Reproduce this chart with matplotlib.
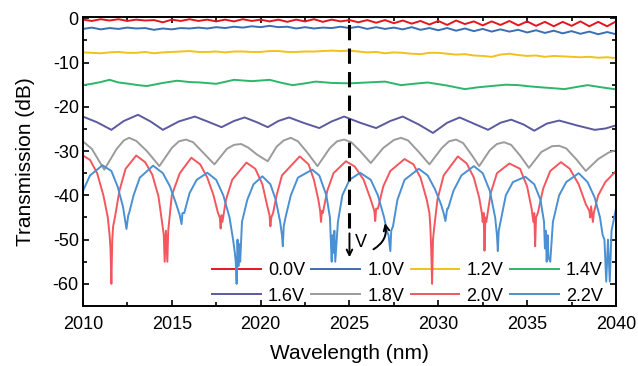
import matplotlib
matplotlib.use("Agg")
import matplotlib.pyplot as plt
from matplotlib.ticker import MultipleLocator

plt.rcParams['font.family'] = ['Liberation Sans', 'DejaVu Sans']
plt.rcParams['axes.unicode_minus'] = False

# ---------------- data ----------------
labels = ["0.0V", "1.0V", "1.2V", "1.4V", "1.6V", "1.8V", "2.0V", "2.2V"]
colors = ["#e3161f", "#3b6fb3", "#f3c11b", "#2db56a", "#5b5a9f", "#9b9b9b", "#f2575e", "#4a90d2"]

x_top = [2010 + 0.5 * i for i in range(61)]
v00_y = [-0.3, -0.6, -0.2, -0.5, -0.2, -0.6, -0.3, -0.5, -0.4, -0.9, -0.3, -0.6, -0.2, -0.6, -0.3, -0.7,
         -0.3, -0.7, -0.2, -0.6, -0.3, -0.7, -0.3, -0.8, -0.3, -0.7, -0.2, -0.8, -0.3, -0.7, -0.4,
         -0.9, -0.4, -1.0, -0.4, -1.1, -0.5, -1.2, -0.6, -1.4, -0.6, -1.5, -0.5, -1.3, -0.7, -1.6,
         -0.7, -1.5, -0.6, -1.6, -0.7, -1.7, -0.8, -1.8, -0.8, -1.7, -0.7, -1.8, -0.8, -1.8, -0.7]
v10_y = [-2.4, -2.1, -2.5, -2.2, -2.4, -2.1, -2.3, -2.2, -2.6, -2.3, -2.5, -2.2, -2.3, -2.1, -2.3, -2.0,
         -2.2, -1.9, -2.1, -1.8, -2.0, -1.7, -2.0, -1.9, -2.3, -2.0, -2.3, -2.1, -2.2, -1.9, -2.2,
         -1.9, -2.4, -2.0, -2.4, -2.1, -2.5, -2.0, -2.6, -2.2, -2.7, -2.2, -2.8, -2.3, -2.9, -2.4,
         -3.0, -2.5, -3.0, -2.6, -3.2, -2.7, -3.3, -2.8, -3.4, -2.9, -3.5, -3.0, -3.6, -3.1, -3.6]

v12_x = [2010, 2010.5, 2011, 2011.5, 2012, 2012.5, 2013, 2013.5, 2014, 2014.5, 2015, 2015.5, 2016, 2016.5,
         2017, 2017.5, 2018, 2018.5, 2019, 2019.5, 2020, 2020.5, 2021, 2021.5, 2022, 2022.5, 2023, 2023.5,
         2024, 2024.5, 2025, 2025.5, 2026, 2026.5, 2027, 2027.5, 2028, 2028.5, 2029, 2029.5, 2030, 2030.5,
         2031, 2031.5, 2032, 2032.5, 2033, 2033.5, 2034, 2034.5, 2035, 2035.5, 2036, 2036.5, 2037, 2037.5,
         2038, 2038.5, 2039, 2039.5, 2040]
v12_y = [-7.7, -7.8, -7.9, -7.7, -7.6, -7.8, -7.8, -7.6, -7.9, -7.7, -7.6, -7.5, -7.4, -7.6, -7.6, -7.5,
         -7.7, -7.5, -7.5, -7.6, -7.6, -7.4, -7.4, -7.6, -7.6, -7.5, -7.5, -7.4, -7.3, -7.4, -7.3, -7.5,
         -7.7, -7.6, -7.9, -7.7, -7.8, -8.0, -8.1, -7.8, -7.8, -8.0, -8.2, -8.1, -8.4, -8.5, -8.7, -8.2,
         -8.0, -8.3, -8.5, -8.4, -8.7, -8.5, -8.6, -8.7, -8.8, -8.7, -8.9, -8.8, -9.0]

v14_x = [2010, 2010.5, 2011, 2011.5, 2012, 2012.6, 2013.1, 2013.6, 2014.5, 2015.3, 2016.0, 2016.6, 2017.5,
         2018.5, 2019.5, 2020.5, 2021.2, 2021.8, 2022.5, 2023.1, 2024.0, 2025.0, 2026.0, 2027.0, 2027.9,
         2028.6, 2029.4, 2030.5, 2031.5, 2032.2, 2033.0, 2033.8, 2034.5, 2035.2, 2035.8, 2036.5, 2037.1,
         2037.8, 2038.4, 2039.2, 2039.9, 2040]
v14_y = [-15.1, -14.8, -14.4, -13.9, -14.5, -14.8, -15.1, -15.3, -14.6, -14.1, -14.4, -14.5, -14.8,
         -13.9, -14.2, -13.9, -14.6, -15.1, -14.7, -14.3, -14.6, -14.7, -14.5, -14.3, -15.1,
         -14.8, -14.5, -15.2, -16.0, -15.6, -15.3, -15.0, -15.1, -15.4, -15.6, -15.8, -16.0,
         -15.5, -15.1, -15.6, -16.0, -16.0]

v16_x = [2010.0, 2010.8, 2011.6, 2012.3, 2013.1, 2013.8, 2014.5, 2015.4, 2016.3, 2017.0, 2017.8, 2018.5,
         2019.1, 2019.8, 2020.4, 2021.0, 2021.6, 2022.4, 2023.3, 2024.0, 2024.7, 2025.6, 2026.5, 2027.3,
         2028.0, 2028.9, 2029.7, 2030.5, 2031.2, 2032.0, 2032.8, 2033.5, 2034.1, 2034.8, 2035.4, 2036.1,
         2036.8, 2037.8, 2038.8, 2039.4, 2040.0]
v16_y = [-22.2, -23.5, -25.2, -23.2, -21.8, -23.3, -25.2, -23.3, -22.2, -23.3, -24.6, -23.2,
         -22.4, -23.5, -24.6, -23.2, -22.4, -23.6, -24.8, -23.3, -22.2, -23.6, -24.8, -23.2,
         -22.2, -24.0, -25.9, -23.6, -22.4, -23.8, -25.2, -23.6, -22.9, -24.0, -25.4, -23.8,
         -23.1, -24.2, -25.2, -24.9, -24.2]

v18_x = [2010.0, 2010.5, 2011.2, 2011.9, 2012.3, 2012.6, 2013.0, 2013.6, 2014.3, 2015.0, 2015.4, 2015.8,
         2016.2, 2016.8, 2017.4, 2018.1, 2018.5, 2018.9, 2019.3, 2019.8, 2020.4, 2020.9, 2021.3, 2021.7,
         2022.1, 2022.6, 2023.2, 2023.9, 2024.3, 2024.7, 2025.1, 2025.6, 2026.2, 2026.9, 2027.5, 2027.9,
         2028.3, 2028.9, 2029.5, 2030.2, 2030.6, 2031.0, 2031.4, 2031.9, 2032.3, 2032.9, 2033.3, 2033.7,
         2034.1, 2034.6, 2035.1, 2035.8, 2036.4, 2036.8, 2037.2, 2037.8, 2038.3, 2039.0, 2039.6, 2040.0]
v18_y = [-27.8, -29.5, -34.2, -29.5, -27.6, -27.0, -27.7, -30.0, -33.4, -29.3, -27.8, -27.4,
         -28.0, -30.5, -33.0, -29.5, -28.6, -28.4, -29.2, -30.8, -32.3, -29.0, -27.6, -27.0,
         -27.8, -30.2, -33.4, -29.3, -27.8, -27.4, -28.0, -30.0, -32.7, -29.3, -27.5, -27.0,
         -27.6, -30.2, -33.0, -29.3, -27.8, -27.4, -28.2, -31.0, -33.4, -29.8, -28.4, -28.0,
         -28.6, -31.0, -33.8, -30.2, -28.9, -28.8, -29.4, -32.0, -34.5, -31.8, -30.3, -29.8]

v20_x = [2010.0, 2010.4, 2010.8, 2011.15, 2011.4, 2011.5, 2011.55, 2011.6, 2011.65, 2011.7, 2011.8, 2012.05, 2012.4,
         2013.0, 2013.5, 2013.9, 2014.25, 2014.45, 2014.55, 2014.6, 2014.67, 2014.75, 2014.8, 2014.9, 2015.0, 2015.45,
         2016.1, 2016.6, 2017.0, 2017.35, 2017.6, 2017.7, 2017.75, 2017.8, 2017.85, 2018.05, 2018.4,
         2019.2, 2019.7, 2020.1, 2020.35, 2020.5, 2020.55, 2020.6, 2020.7, 2020.9, 2021.2,
         2022.2, 2022.7, 2023.0, 2023.25, 2023.35, 2023.4, 2023.45, 2023.5, 2023.75, 2024.1,
         2024.8, 2025.3, 2025.8, 2026.2, 2026.4, 2026.45, 2026.5, 2026.6, 2026.9, 2027.3,
         2028.1, 2028.6, 2029.0, 2029.35, 2029.5, 2029.55, 2029.6, 2029.65, 2029.7, 2029.75, 2029.95, 2030.3,
         2031.1, 2031.6, 2032.0, 2032.3, 2032.45, 2032.5, 2032.55, 2032.6, 2032.65, 2032.7, 2032.95, 2033.3,
         2034.0, 2034.6, 2035.0, 2035.25, 2035.35, 2035.4, 2035.45, 2035.5, 2035.6, 2035.9, 2036.3,
         2036.9, 2037.4, 2037.9, 2038.3, 2038.5, 2038.55, 2038.6, 2038.7, 2038.75, 2039.0, 2039.4, 2040.0]
v20_y = [-31.0, -32.0, -35.0, -40.0, -45.0, -49.0, -52.0, -60.0, -50.0, -47.0, -45.0, -39.0, -34.0,
         -31.0, -32.5, -35.3, -40.2, -46.0, -49.0, -55.0, -48.0, -55.0, -48.0, -44.0, -40.0, -35.0,
         -31.5, -33.0, -36.0, -40.0, -44.0, -45.0, -47.5, -44.5, -46.0, -41.0, -36.5,
         -32.6, -34.0, -37.5, -42.0, -44.5, -47.0, -45.0, -44.0, -40.0, -35.5,
         -31.2, -33.0, -36.5, -41.0, -43.5, -46.0, -43.5, -44.0, -39.0, -35.0,
         -32.3, -33.5, -36.5, -41.0, -43.5, -45.8, -43.0, -43.0, -38.0, -34.5,
         -31.8, -33.0, -36.0, -41.0, -44.0, -47.0, -52.0, -60.0, -50.0, -48.0, -41.0, -35.5,
         -31.2, -32.8, -36.0, -40.5, -44.0, -46.0, -44.0, -52.5, -45.0, -46.0, -39.5, -35.0,
         -32.8, -34.0, -38.0, -43.0, -46.0, -44.0, -51.5, -45.0, -44.0, -38.5, -34.5,
         -32.5, -34.0, -37.5, -42.0, -43.5, -45.0, -42.5, -46.0, -44.0, -40.0, -37.0, -34.5]

v22_x = [2010.0, 2010.4, 2011.1, 2011.6, 2011.95, 2012.25, 2012.35, 2012.45, 2012.55, 2012.6, 2012.85, 2013.2,
         2013.95, 2014.5, 2014.9, 2015.25, 2015.45, 2015.55, 2015.6, 2015.7, 2016.0, 2016.4,
         2017.0, 2017.5, 2017.9, 2018.25, 2018.45, 2018.55, 2018.6, 2018.65, 2018.7, 2018.75, 2018.8, 2018.85,
         2018.95, 2019.25, 2019.6,
         2020.1, 2020.55, 2020.85, 2021.1, 2021.2, 2021.25, 2021.3, 2021.4, 2021.7, 2022.1,
         2022.9, 2023.3, 2023.7, 2023.9, 2023.95, 2024.0, 2024.05, 2024.1, 2024.15, 2024.2, 2024.35, 2024.6, 2025.0,
         2025.6, 2026.2, 2026.6, 2026.95, 2027.1, 2027.2, 2027.3, 2027.35, 2027.45, 2027.7, 2028.1,
         2028.9, 2029.4, 2029.8, 2030.15, 2030.3, 2030.4, 2030.5, 2030.55, 2030.85, 2031.3,
         2032.0, 2032.5, 2032.9, 2033.2, 2033.3, 2033.35, 2033.4, 2033.5, 2033.8, 2034.2,
         2034.9, 2035.4, 2035.75, 2035.95, 2036.0, 2036.05, 2036.1, 2036.15, 2036.2, 2036.3, 2036.45, 2036.8, 2037.2,
         2037.9, 2038.4, 2038.8, 2039.1, 2039.25, 2039.35, 2039.45, 2039.55, 2039.65, 2039.75, 2040.0]
v22_y = [-39.0, -35.5, -33.2, -34.5, -38.0, -42.5, -45.0, -47.6, -44.5, -44.0, -40.0, -36.0,
         -33.3, -35.0, -38.0, -42.0, -44.5, -46.5, -44.0, -44.0, -39.5, -36.5,
         -34.9, -36.5, -40.0, -45.0, -50.0, -53.0, -55.0, -60.0, -50.0, -56.0, -51.0, -55.0,
         -46.0, -41.0, -37.5,
         -35.7, -37.5, -41.0, -46.0, -49.0, -51.5, -47.0, -45.0, -40.0, -36.0,
         -34.2, -35.5, -40.0, -45.0, -50.0, -55.0, -49.0, -53.0, -48.0, -55.0, -46.0, -40.0, -36.5,
         -34.9, -36.5, -40.0, -45.0, -48.0, -49.0, -52.6, -48.0, -47.0, -41.0, -36.5,
         -34.0, -35.5, -38.5, -42.0, -44.0, -45.8, -43.0, -43.0, -39.0, -35.5,
         -33.4, -35.0, -39.0, -45.0, -49.0, -52.6, -48.0, -46.0, -40.0, -37.0,
         -35.8, -37.5, -41.0, -46.0, -52.0, -48.0, -55.0, -49.0, -54.0, -55.0, -46.0, -40.0, -37.0,
         -35.0, -37.0, -40.5, -45.0, -49.0, -50.0, -59.5, -50.0, -59.5, -48.0, -43.0]

series_x = [x_top, x_top, v12_x, v14_x, v16_x, v18_x, v20_x, v22_x]
series_y = [v00_y, v10_y, v12_y, v14_y, v16_y, v18_y, v20_y, v22_y]

marker_wavelength = 2025

# ---------------- figure ----------------
fig = plt.figure(figsize=(6.38, 3.66), dpi=100)
ax = fig.add_axes([0.130, 0.164, 0.8355, 0.7896])

handles = []
for xs, ys, c, lab in zip(series_x, series_y, colors, labels):
    h, = ax.plot(xs, ys, color=c, lw=1.4, label=lab, zorder=2)
    handles.append(h)

ax.axvline(marker_wavelength, ymin=0.27, ymax=1.0, color='black', lw=2.2,
           dashes=(5, 2.7), zorder=5)
ax.annotate('', xy=(2025, -54.0), xytext=(2025, -48.6),
            arrowprops=dict(arrowstyle='->', lw=1.4, color='black', shrinkA=0, shrinkB=0), zorder=6)
ax.text(2025.65, -50.6, 'V', fontsize=13, ha='center', va='center', zorder=6)
ax.annotate('', xy=(2027.0, -46.3), xytext=(2026.35, -52.2),
            arrowprops=dict(arrowstyle='->', lw=1.4, color='black', shrinkA=0, shrinkB=0,
                            connectionstyle='arc3,rad=0.35'), zorder=6)

ax.set_xlim(2010, 2040)
ax.set_ylim(-65, 0.3)
ax.xaxis.set_major_locator(MultipleLocator(5))
ax.xaxis.set_minor_locator(MultipleLocator(2.5))
ax.yaxis.set_major_locator(MultipleLocator(10))
ax.yaxis.set_minor_locator(MultipleLocator(5))
ax.tick_params(which='both', direction='in', top=True, right=True, width=1.2)
ax.tick_params(which='major', length=4, labelsize=13)
ax.tick_params(axis='x', which='major', pad=7)
ax.tick_params(axis='y', which='major', pad=3)
ax.tick_params(which='minor', length=3)
for s in ax.spines.values():
    s.set_linewidth(1.4)

ax.set_xlabel('Wavelength (nm)', fontsize=15, labelpad=8)
ax.set_ylabel('Transmission (dB)', fontsize=15, labelpad=13)

order = [0, 4, 1, 5, 2, 6, 3, 7]
leg = ax.legend([handles[i] for i in order], [labels[i] for i in order], ncol=4,
                loc='lower left', bbox_to_anchor=(0.242, 0.005), frameon=False,
                fontsize=13, handlelength=2.7, handletextpad=0.4, columnspacing=0.35,
                labelspacing=0.45, borderpad=0, borderaxespad=0)
leg.set_zorder(1)

fig.savefig('out.png', dpi=100)
